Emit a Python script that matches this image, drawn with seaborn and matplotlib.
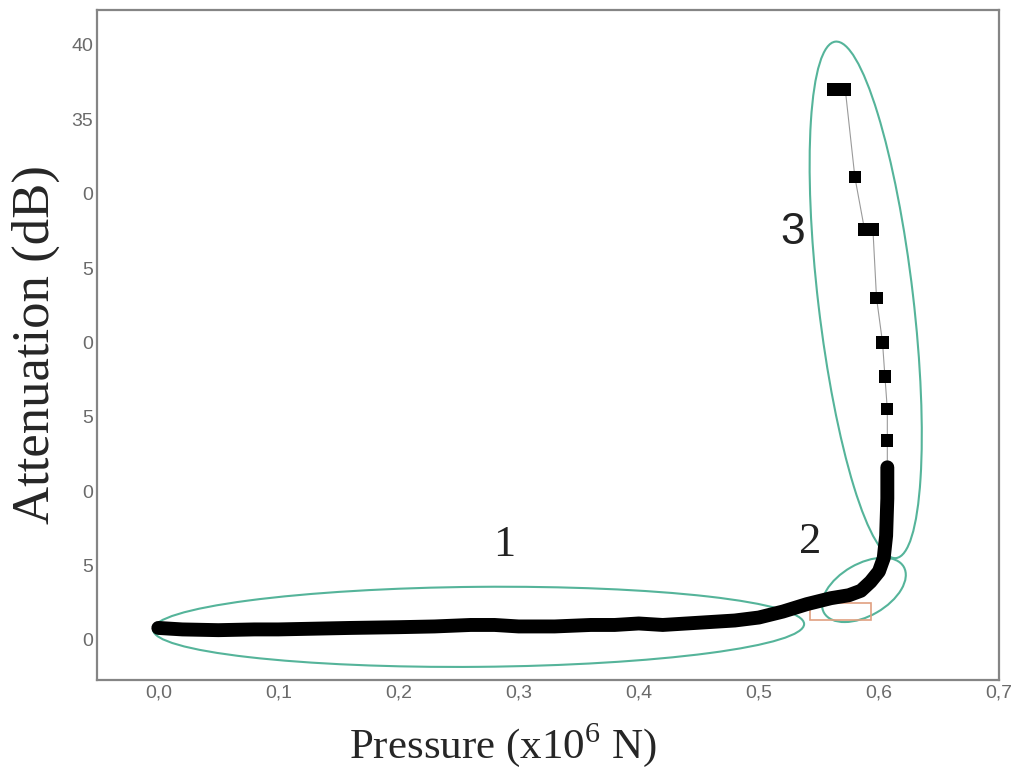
import pandas as pd
import seaborn as sns
import matplotlib.pyplot as plt
from matplotlib.patches import Ellipse, Rectangle
from matplotlib import transforms

# dense part of the curve (zones 1 and 2)
press_dense = [0.0, 0.02, 0.05, 0.08, 0.10, 0.13, 0.16, 0.20, 0.23, 0.26, 0.28, 0.30,
               0.33, 0.36, 0.38, 0.40, 0.42, 0.44, 0.46, 0.48, 0.50, 0.52, 0.54, 0.56,
               0.575, 0.585, 0.593, 0.600, 0.604, 0.606, 0.607, 0.607]
atten_dense = [0.8, 0.7, 0.65, 0.7, 0.7, 0.75, 0.8, 0.85, 0.9, 1.0, 1.0, 0.9,
               0.9, 1.0, 1.0, 1.1, 1.0, 1.1, 1.2, 1.3, 1.5, 1.9, 2.4, 2.8,
               3.0, 3.3, 3.9, 4.6, 5.5, 7.0, 9.5, 11.6]

# sparse square points (zone 3)
press_sq = [0.562, 0.572, 0.580, 0.588, 0.595, 0.598, 0.603, 0.605, 0.607, 0.607]
atten_sq = [37.0, 37.0, 31.1, 27.6, 27.6, 23.0, 20.0, 17.7, 15.5, 13.4]

x_ticks = [0.0, 0.1, 0.2, 0.3, 0.4, 0.5, 0.6, 0.7]
x_ticklabels = ["0,0", "0,1", "0,2", "0,3", "0,4", "0,5", "0,6", "0,7"]
y_ticks = [0, 5, 10, 15, 20, 25, 30, 35, 40]
y_ticklabels = ["0", "5", "0", "5", "0", "5", "0", "35", "40"]

zone_names = ["1", "2", "3"]
zone_x = [0.288, 0.543, 0.528]
zone_y = [6.4, 6.6, 27.4]

dense = pd.DataFrame({"p": press_dense, "a": atten_dense})
squares = pd.DataFrame({"p": press_sq + [press_dense[-1]], "a": atten_sq + [atten_dense[-1]]})

sns.set_style("white")
plt.rcParams["font.family"] = ["Liberation Serif", "DejaVu Serif"]

fig = plt.figure(figsize=(10.13, 7.70), dpi=100)
ax = fig.add_axes([0.0958, 0.1169, 0.8904, 0.8701])

# thin grey connector under the squares
sns.lineplot(data=squares, x="p", y="a", sort=False, estimator=None, color="#9a9a9a",
             linewidth=0.8, ax=ax)
sns.scatterplot(data=squares.iloc[:-1], x="p", y="a", marker="s", s=78, color="black",
                edgecolor="none", linewidth=0, zorder=3, ax=ax)
sns.lineplot(data=dense, x="p", y="a", sort=False, estimator=None, color="black",
             linewidth=10, solid_capstyle="round", ax=ax)

ax.set_xlim(-0.051, 0.70)
ax.set_ylim(-2.7, 42.35)
ax.set_xticks(x_ticks)
ax.set_xticklabels(x_ticklabels)
ax.set_yticks(y_ticks)
ax.set_yticklabels(y_ticklabels)
ax.tick_params(length=0, pad=3, labelsize=14, labelcolor="#6a6a6a")
for lab in ax.get_xticklabels() + ax.get_yticklabels():
    lab.set_family(["Liberation Sans", "DejaVu Sans"])
for sp in ax.spines.values():
    sp.set_color("#858585")
    sp.set_linewidth(1.6)

ax.set_xlabel("Pressure (x10$^{\\mathregular{6}}$ N)", fontsize=31)
ax.xaxis.set_label_coords(0.45, -0.062)
ax.set_ylabel("Attenuation (dB)", fontsize=38, labelpad=8)

# outline of the three zones (centre in data units, size in pixels)
teal = "#55b49a"
rings = [((0.2667, 0.874), 651, 80, 0.5), ((0.5875, 3.36), 92, 52, 30), ((0.589, 22.86), 520, 95, 96.7)]
for (cx, cy), w, h, ang in rings:
    tr = transforms.ScaledTranslation(cx, cy, ax.transData)
    ax.add_patch(Ellipse((0, 0), w, h, angle=ang, transform=tr, fill=False,
                         edgecolor=teal, linewidth=1.5))

ax.add_patch(Rectangle((0.543, 1.34), 0.05, 1.16, fill=False, edgecolor="#e0a080", linewidth=1.2))

for name, x, y in zip(zone_names, zone_x, zone_y):
    fam = ["Liberation Sans", "DejaVu Sans"] if name == "3" else ["Liberation Serif", "DejaVu Serif"]
    ax.text(x, y, name, fontsize=32, ha="center", va="center", family=fam, color="#222222")

fig.savefig("out.png", dpi=100)
